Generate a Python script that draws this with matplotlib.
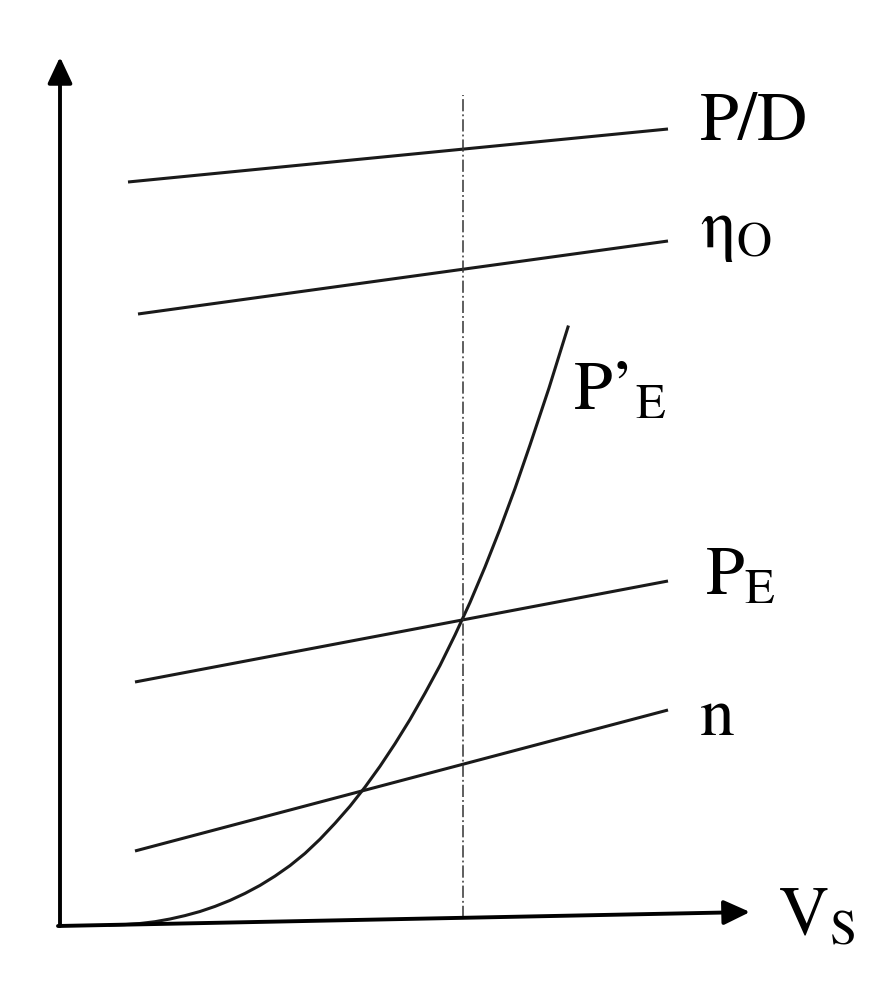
import numpy as np
import matplotlib.pyplot as plt

plt.rcParams['mathtext.fontset'] = 'stix'
plt.rcParams['font.family'] = ['STIXGeneral', 'DejaVu Serif']

# straight lines: (start, end) in sketch units, origin at the axes corner
line_names = ['P/D', 'eta_O', 'P_E', 'n']
line_u = [[68, 608], [78, 608], [75, 608], [75, 608]]
line_v = [[743, 796], [611, 684], [243, 344], [74, 215]]

# P'_E curve
curve_u = [50, 65, 80, 95, 110, 125, 140, 155, 170, 185, 200, 215, 230, 245, 260,
           275, 290, 305, 320, 335, 350, 365, 380, 395, 410, 425, 440, 455, 470,
           489, 508]
curve_v = [0, 0.4, 1.5, 3.3, 6, 9.4, 13.5, 18.6, 24.6, 31.6, 39.6, 48.9, 59.4, 71.6,
           85.8, 101.7, 118.8, 137.9, 158.7, 181.3, 205.5, 231.8, 259.5, 290, 322.5,
           358, 396, 436.5, 480, 537, 598]

# dashed marker at the operating speed
vs_u = 403
vs_v = [7, 830]

fig = plt.figure(figsize=(8.92, 9.97), dpi=100)
ax = fig.add_axes([0, 0, 1, 1])
ax.set_xlim(-60, 832)
ax.set_ylim(-72, 925)
ax.axis('off')

# axes arrows
arr = dict(arrowstyle='-|>,head_length=1.6,head_width=0.75', color='k', lw=2.8,
           shrinkA=0, shrinkB=0)
ax.annotate('', xy=(0, 868), xytext=(0, -1), arrowprops=arr)
ax.annotate('', xy=(690, 13), xytext=(-2, -1), arrowprops=arr)

for u, v in zip(line_u, line_v):
    ax.plot(u, v, '-', color='#1a1a1a', lw=2.2, solid_capstyle='butt')

ax.plot(curve_u, curve_v, '-', color='#1a1a1a', lw=2.2, solid_joinstyle='round')
ax.plot([vs_u, vs_u], vs_v, color='#333333', lw=1.1, dashes=(8, 2, 1.2, 2))

fs = 50
ax.text(640, 785, 'P/D', fontsize=fs, ha='left', va='baseline')
ax.text(640, 678, r'η$_{\mathrm{O}}$', fontsize=fs, ha='left', va='baseline')
ax.text(513, 515, r"P’$_{\mathrm{E}}$", fontsize=fs, ha='left', va='baseline')
ax.text(645, 330, r'P$_{\mathrm{E}}$', fontsize=fs, ha='left', va='baseline')
ax.text(640, 190, 'n', fontsize=fs, ha='left', va='baseline')
ax.text(718, -10, r'V$_{\mathrm{S}}$', fontsize=fs, ha='left', va='baseline')

plt.savefig('out.png', dpi=100)
